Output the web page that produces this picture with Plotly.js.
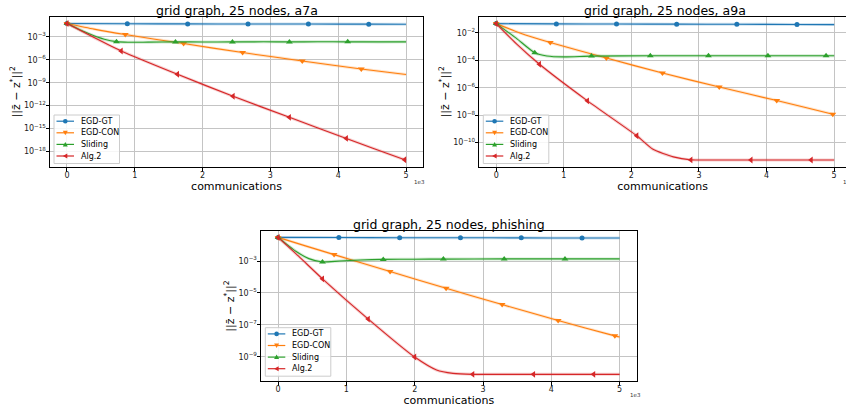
<!DOCTYPE html>
<html><head><meta charset="utf-8">
<script src="https://cdn.plot.ly/plotly-3.0.1.min.js"></script>
<style>html,body{margin:0;padding:0;overflow:hidden;background:#fff}#chart{width:846px;height:408px}</style>
</head><body><div id="chart"></div>
<script>
// x values are communications in units of 1e3
const seriesNames = ['EGD-GT', 'EGD-CON', 'Sliding', 'Alg.2'];
const seriesColors = ['#1f77b4', '#ff7f0e', '#2ca02c', '#d62728'];
const seriesSymbols = ['circle', 'triangle-down', 'triangle-up', 'triangle-left'];
const panelTitles = ['grid graph, 25 nodes, a7a', 'grid graph, 25 nodes, a9a', 'grid graph, 25 nodes, phishing'];

// ---- a7a ----
const a7a_gt_x = [0, 0.89, 1.78, 2.67, 3.56, 4.45, 5];
const a7a_gt_y = [5.75e-2, 5.25e-2, 5.13e-2, 5.01e-2, 4.90e-2, 4.79e-2, 4.68e-2];
const a7a_gt_m = [1, 1, 1, 1, 1, 1, 0];
const a7a_con_x = [0, 0.4, 0.86, 1.72, 2.59, 3.47, 4.34, 5];
const a7a_con_y = [5.75e-2, 1.05e-2, 2.04e-3, 1.35e-4, 8.9e-6, 7.1e-7, 6.3e-8, 1.17e-8];
const a7a_con_m = [1, 0, 1, 1, 1, 1, 1, 0];
const a7a_sl_x = [0, 0.1, 0.25, 0.4, 0.55, 0.73, 0.9, 1.2, 1.6, 2.0, 2.44, 2.9, 3.28, 3.7, 4.14, 4.6, 5];
const a7a_sl_y = [5.75e-2, 2.24e-2, 5.0e-3, 1.41e-3, 5.0e-4, 2.4e-4, 2.0e-4, 2.09e-4, 2.24e-4, 2.2e-4, 2.24e-4, 2.3e-4, 2.24e-4, 2.3e-4, 2.29e-4, 2.25e-4, 2.29e-4];
const a7a_sl_m = [1, 0, 0, 0, 0, 1, 0, 0, 1, 0, 1, 0, 1, 0, 1, 0, 0];
const a7a_alg_x = [0, 0.4, 0.8, 1.63, 2.45, 3.28, 4.12, 4.98, 5];
const a7a_alg_y = [5.75e-2, 8.3e-4, 1.45e-5, 1.26e-8, 1.66e-11, 2.88e-14, 5.0e-17, 7.9e-20, 7.1e-20];
const a7a_alg_m = [1, 0, 1, 1, 1, 1, 1, 1, 0];

// ---- a9a ----
const a9a_gt_x = [0, 0.89, 1.78, 2.67, 3.56, 4.45, 5];
const a9a_gt_y = [4.79e-2, 4.57e-2, 4.47e-2, 4.37e-2, 4.27e-2, 4.17e-2, 4.07e-2];
const a9a_gt_m = [1, 1, 1, 1, 1, 1, 0];
const a9a_con_x = [0, 0.35, 0.8, 1.63, 2.46, 3.3, 4.15, 4.98, 5];
const a9a_con_y = [4.79e-2, 1.0e-2, 2.0e-3, 1.48e-4, 1.17e-5, 1.12e-6, 1.15e-7, 1.17e-8, 1.12e-8];
const a9a_con_m = [1, 0, 1, 1, 1, 1, 1, 1, 0];
const a9a_sl_x = [0, 0.3, 0.57, 0.75, 1.0, 1.41, 2.28, 3.14, 4.02, 4.88, 5];
const a9a_sl_y = [4.79e-2, 3.98e-3, 3.55e-4, 2.09e-4, 1.78e-4, 2.04e-4, 2.14e-4, 2.14e-4, 2.14e-4, 2.14e-4, 2.14e-4];
const a9a_sl_m = [1, 0, 1, 0, 0, 1, 1, 1, 1, 1, 0];
const a9a_alg_x = [0, 0.3, 0.64, 1.35, 2.08, 2.32, 2.62, 2.88, 3.1, 3.77, 4.66, 5];
const a9a_alg_y = [4.79e-2, 1.58e-3, 5.13e-5, 1.10e-7, 3.09e-10, 3.16e-11, 8.9e-12, 5.37e-12, 5.25e-12, 5.25e-12, 5.25e-12, 5.25e-12];
const a9a_alg_m = [1, 0, 1, 1, 1, 0, 0, 1, 0, 1, 1, 0];

// ---- phishing ----
const ph_gt_x = [0, 0.89, 1.78, 2.67, 3.56, 4.45, 5];
const ph_gt_y = [3.02e-2, 2.95e-2, 2.88e-2, 2.85e-2, 2.82e-2, 2.75e-2, 2.75e-2];
const ph_gt_m = [1, 1, 1, 1, 1, 1, 0];
const ph_con_x = [0, 0.4, 0.82, 1.64, 2.46, 3.28, 4.1, 4.93, 5];
const ph_con_y = [3.02e-2, 8.9e-3, 2.51e-3, 2.19e-4, 1.95e-5, 1.86e-6, 1.86e-7, 2.04e-8, 1.74e-8];
const ph_con_m = [1, 0, 1, 1, 1, 1, 1, 1, 0];
const ph_sl_x = [0, 0.26, 0.45, 0.65, 0.9, 1.2, 1.54, 2.0, 2.42, 3.31, 4.2, 5];
const ph_sl_y = [3.02e-2, 4.07e-3, 1.41e-3, 8.7e-4, 1.0e-3, 1.15e-3, 1.26e-3, 1.3e-3, 1.32e-3, 1.35e-3, 1.35e-3, 1.35e-3];
const ph_sl_m = [1, 0, 0, 1, 0, 0, 1, 0, 1, 1, 1, 0];
const ph_alg_x = [0, 0.3, 0.65, 1.32, 2.0, 2.32, 2.56, 2.85, 3.1, 3.74, 4.62, 5];
const ph_alg_y = [3.02e-2, 2.0e-3, 7.6e-5, 2.29e-7, 9.55e-10, 1.48e-10, 9.1e-11, 7.9e-11, 7.9e-11, 7.9e-11, 7.9e-11, 7.9e-11];
const ph_alg_m = [1, 0, 1, 1, 1, 0, 0, 1, 0, 1, 1, 0];

// tick labels
const xTickVals = [0, 1, 2, 3, 4, 5];
const xTickText = ['0', '1', '2', '3', '4', '5'];
const a7a_yTickVals = [1e-3, 1e-6, 1e-9, 1e-12, 1e-15, 1e-18];
const a7a_yTickText = ['10<sup>−3</sup>', '10<sup>−6</sup>', '10<sup>−9</sup>', '10<sup>−12</sup>', '10<sup>−15</sup>', '10<sup>−18</sup>'];
const a9a_yTickVals = [1e-2, 1e-4, 1e-6, 1e-8, 1e-10];
const a9a_yTickText = ['10<sup>−2</sup>', '10<sup>−4</sup>', '10<sup>−6</sup>', '10<sup>−8</sup>', '10<sup>−10</sup>'];
const ph_yTickVals = [1e-3, 1e-5, 1e-7, 1e-9];
const ph_yTickText = ['10<sup>−3</sup>', '10<sup>−5</sup>', '10<sup>−7</sup>', '10<sup>−9</sup>'];

// ---------- figure construction ----------
const W = 846, H = 408;
const px = v => v / W;
const py = v => 1 - v / H;

const panels = [
  { series: [[a7a_gt_x, a7a_gt_y, a7a_gt_m], [a7a_con_x, a7a_con_y, a7a_con_m], [a7a_sl_x, a7a_sl_y, a7a_sl_m], [a7a_alg_x, a7a_alg_y, a7a_alg_m]],
    box: [50, 423, 16.5, 167], xr: [-0.25, 5.25], yr: [-20.05, -0.32], tv: a7a_yTickVals, tt: a7a_yTickText,
    leg: [54, 115], titleY: 10.5, off: [412, 182], mirrorY: true },
  { series: [[a9a_gt_x, a9a_gt_y, a9a_gt_m], [a9a_con_x, a9a_con_y, a9a_con_m], [a9a_sl_x, a9a_sl_y, a9a_sl_m], [a9a_alg_x, a9a_alg_y, a9a_alg_m]],
    box: [479.3, 846, 16.5, 167], xr: [-0.25, 5.175], yr: [-11.79, -0.80], tv: a9a_yTickVals, tt: a9a_yTickText,
    leg: [483.3, 115], titleY: 10.5, titleX: 665.3, off: [841, 182], mirrorY: false },
  { series: [[ph_gt_x, ph_gt_y, ph_gt_m], [ph_con_x, ph_con_y, ph_con_m], [ph_sl_x, ph_sl_y, ph_sl_m], [ph_alg_x, ph_alg_y, ph_alg_m]],
    box: [261, 636.7, 231, 381], xr: [-0.25, 5.25], yr: [-10.52, -1.12], tv: ph_yTickVals, tt: ph_yTickText,
    leg: [265.3, 327.7], titleY: 224.5, off: [628, 395], mirrorY: true }
];

const traces = [];
const shapes = [];
const annotations = [];
const layout = {
  width: W, height: H, margin: { l: 0, r: 0, t: 0, b: 0 },
  paper_bgcolor: '#fff', plot_bgcolor: '#fff', showlegend: false,
  font: { family: 'DejaVu Sans', color: '#000' }
};

const fade = (hex, a) => {
  const n = parseInt(hex.slice(1), 16);
  return `rgba(${(n >> 16) & 255},${(n >> 8) & 255},${n & 255},${a})`;
};

panels.forEach((p, k) => {
  const sx = k === 0 ? '' : String(k + 1);
  const xa = 'x' + sx, ya = 'y' + sx;
  const common = {
    ticks: 'outside', ticklen: 3.5, tickwidth: 1, tickcolor: '#000',
    showline: true, linecolor: '#000', linewidth: 1,
    showgrid: true, gridcolor: '#c4c4c4', gridwidth: 1, zeroline: false,
    tickfont: { size: 8, family: 'DejaVu Sans', color: '#222' }
  };
  layout['xaxis' + sx] = Object.assign({}, common, {
    domain: [px(p.box[0]), px(p.box[1])], range: p.xr, anchor: ya,
    tickvals: xTickVals, ticktext: xTickText, mirror: true, ticklabelstandoff: -3,
    title: { text: 'communications', font: { size: 11, family: 'DejaVu Sans', color: '#000' }, standoff: 0 }
  });
  layout['yaxis' + sx] = Object.assign({}, common, {
    domain: [py(p.box[3]), py(p.box[2])], range: p.yr, type: 'log', anchor: xa,
    tickvals: p.tv, ticktext: p.tt, mirror: p.mirrorY, ticklabelstandoff: -2,
    title: { text: '||z̄ − z<sup>*</sup>||<sup>2</sup>', font: { size: 11, family: 'DejaVu Sans', color: '#000' }, standoff: 1 }
  });

  p.series.forEach((s, i) => {
    const [x, y, m] = s;
    traces.push({
      x, y, xaxis: xa, yaxis: ya, mode: 'lines', hoverinfo: 'skip', showlegend: false,
      line: { color: fade(seriesColors[i], 0.22), width: 3, shape: 'spline', smoothing: 0.6 }
    });
    traces.push({
      x, y, xaxis: xa, yaxis: ya, mode: 'lines+markers', name: seriesNames[i], showlegend: false,
      line: { color: seriesColors[i], width: 1.1, shape: 'spline', smoothing: 0.6 },
      marker: { symbol: seriesSymbols[i], size: i === 0 ? 5 : 6,
                color: m.map(f => f ? seriesColors[i] : 'rgba(0,0,0,0)') }
    });
  });

  // panel title
  annotations.push({
    xref: 'paper', yref: 'paper', x: px(p.titleX || (p.box[0] + p.box[1]) / 2), y: py(p.titleY),
    xanchor: 'center', yanchor: 'middle', showarrow: false,
    text: panelTitles[k], font: { size: 12.5, family: 'DejaVu Sans', color: '#000' }
  });
  // offset text
  annotations.push({
    xref: 'paper', yref: 'paper', x: px(p.off[0]), y: py(p.off[1]), xanchor: 'left', yanchor: 'middle',
    showarrow: false, text: '1e3', font: { size: 5.5, family: 'DejaVu Sans', color: '#333' }
  });

  // legend (matplotlib style box in the lower-left corner)
  const [L, T] = p.leg;
  shapes.push({ type: 'rect', xref: 'paper', yref: 'paper', x0: px(L), x1: px(L + 65.5), y0: py(T), y1: py(T + 48.5),
    line: { color: '#cccccc', width: 1 }, fillcolor: 'rgba(255,255,255,0.85)' });
  seriesNames.forEach((nm, i) => {
    const cy = T + 6.2 + i * 11.6;
    const cx = L + 11.3;
    shapes.push({ type: 'line', xref: 'paper', yref: 'paper', x0: px(L + 2.5), x1: px(L + 20), y0: py(cy), y1: py(cy),
      line: { color: seriesColors[i], width: 1.2 } });
    const s = 5;
    let path;
    if (i === 0) {
      shapes.push({ type: 'circle', xref: 'paper', yref: 'paper', x0: px(cx - 2.3), x1: px(cx + 2.3), y0: py(cy - 2.3), y1: py(cy + 2.3),
        line: { width: 0 }, fillcolor: seriesColors[i] });
    } else {
      if (i === 1) path = `M${px(cx - s / 2)},${py(cy - s * 0.4)} L${px(cx + s / 2)},${py(cy - s * 0.4)} L${px(cx)},${py(cy + s * 0.5)} Z`;
      if (i === 2) path = `M${px(cx - s / 2)},${py(cy + s * 0.4)} L${px(cx + s / 2)},${py(cy + s * 0.4)} L${px(cx)},${py(cy - s * 0.5)} Z`;
      if (i === 3) path = `M${px(cx + s * 0.4)},${py(cy - s / 2)} L${px(cx + s * 0.4)},${py(cy + s / 2)} L${px(cx - s * 0.5)},${py(cy)} Z`;
      shapes.push({ type: 'path', xref: 'paper', yref: 'paper', path, line: { width: 0 }, fillcolor: seriesColors[i] });
    }
    annotations.push({ xref: 'paper', yref: 'paper', x: px(L + 25), y: py(cy), xanchor: 'left', yanchor: 'middle',
      showarrow: false, text: nm, font: { size: 8, family: 'DejaVu Sans', color: '#000' } });
  });
});

layout.shapes = shapes;
layout.annotations = annotations;

Plotly.newPlot('chart', traces, layout, { staticPlot: true, displayModeBar: false });
</script>
</body></html>
